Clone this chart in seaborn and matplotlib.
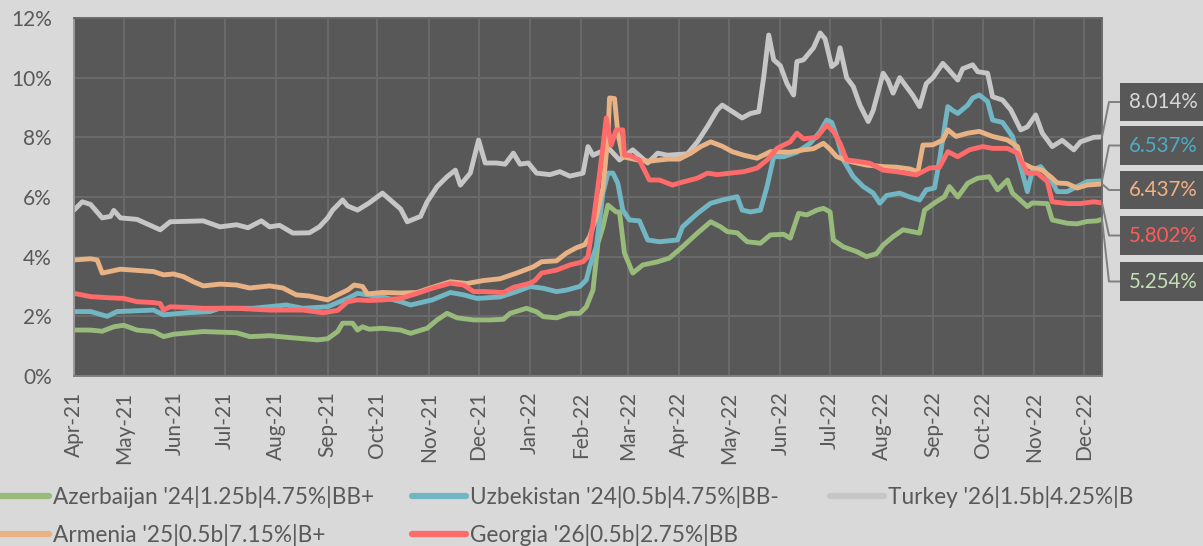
import math
import numpy as np
import pandas as pd
import matplotlib
matplotlib.use("Agg")
import matplotlib.pyplot as plt
import matplotlib.dates as mdates
from matplotlib.ticker import MultipleLocator, FuncFormatter
import seaborn as sns

# ---------------- data (days since 2021-04-01, yield %) ----------------
START = "2021-04-01"
END = "2022-12-12"

labels = [
    "Azerbaijan '24|1.25b|4.75%|BB+",
    "Uzbekistan '24|0.5b|4.75%|BB-",
    "Turkey '26|1.5b|4.25%|B",
    "Armenia '25|0.5b|7.15%|B+",
    "Georgia '26|0.5b|2.75%|BB",
]

az_day = [0, 10, 17, 24, 30, 38, 48, 54, 60, 78, 98, 106, 118, 134, 147, 153, 159, 162, 168, 171,
          174, 178, 186, 197, 203, 213, 219, 225, 231, 241, 251, 259, 263, 273, 279, 283, 291, 299,
          305, 309, 313, 316, 319, 322, 327, 329, 332, 337, 343, 352, 359, 367, 376, 384, 390, 394,
          400, 406, 414, 420, 428, 432, 437, 442, 448, 452, 456, 458, 464, 472, 478, 484, 488, 494,
          500, 510, 513, 520, 525, 528, 533, 539, 545, 552, 557, 563, 566, 575, 578, 587, 590, 599,
          605, 611, 617, 620]
az_val = [1.54, 1.54, 1.50, 1.65, 1.70, 1.54, 1.49, 1.32, 1.40, 1.49, 1.45, 1.32, 1.35, 1.27, 1.21,
          1.25, 1.49, 1.77, 1.77, 1.54, 1.65, 1.57, 1.60, 1.54, 1.43, 1.60, 1.88, 2.10, 1.95, 1.88,
          1.88, 1.90, 2.10, 2.27, 2.15, 1.99, 1.95, 2.10, 2.10, 2.32, 2.88, 4.45, 5.00, 5.73, 5.50,
          5.50, 4.12, 3.45, 3.72, 3.83, 3.95, 4.33, 4.79, 5.17, 5.00, 4.84, 4.80, 4.50, 4.45, 4.73,
          4.75, 4.62, 5.45, 5.40, 5.56, 5.62, 5.50, 4.56, 4.33, 4.17, 4.00, 4.10, 4.39, 4.67, 4.90,
          4.79, 5.56, 5.84, 6.01, 6.35, 6.00, 6.46, 6.63, 6.68, 6.24, 6.57, 6.13, 5.68, 5.80, 5.78,
          5.23, 5.12, 5.10, 5.18, 5.20, 5.254]

uz_day = [0, 10, 20, 26, 48, 54, 68, 82, 88, 108, 128, 138, 153, 165, 171, 177, 186, 197, 203, 216,
          227, 235, 243, 257, 267, 275, 283, 291, 297, 305, 309, 311, 315, 319, 322, 325, 328, 331,
          335, 341, 346, 353, 364, 367, 376, 384, 391, 400, 403, 408, 414, 418, 422, 428, 436, 444,
          450, 454, 457, 460, 464, 470, 476, 482, 486, 490, 498, 504, 510, 514, 519, 522, 527, 530,
          533, 539, 542, 546, 551, 554, 560, 566, 571, 575, 578, 583, 589, 593, 599, 605, 611, 620]
uz_val = [2.16, 2.16, 2.00, 2.16, 2.21, 2.05, 2.12, 2.16, 2.27, 2.27, 2.38, 2.27, 2.32, 2.60, 2.77,
          2.72, 2.65, 2.49, 2.38, 2.55, 2.80, 2.72, 2.60, 2.65, 2.83, 3.00, 2.94, 2.83, 2.88, 3.00,
          3.22, 3.66, 4.33, 6.13, 6.80, 6.80, 6.46, 5.56, 5.23, 5.20, 4.56, 4.50, 4.56, 5.00, 5.45,
          5.79, 5.90, 6.01, 5.56, 5.50, 5.56, 6.35, 7.35, 7.35, 7.50, 7.80, 8.19, 8.58, 8.50, 8.03,
          7.24, 6.68, 6.35, 6.13, 5.79, 6.05, 6.13, 6.00, 5.90, 6.24, 6.30, 7.24, 9.03, 8.90, 8.80,
          9.08, 9.32, 9.42, 9.20, 8.58, 8.50, 8.03, 7.02, 6.18, 6.90, 7.02, 6.60, 6.18, 6.18, 6.35,
          6.52, 6.537]

tr_day = [0, 5, 10, 17, 22, 24, 28, 38, 52, 58, 78, 88, 98, 105, 113, 118, 124, 132, 142, 148, 153,
          156, 162, 165, 171, 178, 186, 192, 197, 201, 209, 213, 219, 225, 230, 233, 239, 244, 248,
          255, 260, 265, 269, 274, 279, 287, 293, 299, 307, 310, 313, 317, 323, 329, 337, 346, 352,
          358, 370, 376, 382, 388, 391, 396, 403, 408, 413, 416, 419, 422, 426, 430, 434, 436, 440,
          446, 450, 453, 457, 460, 462, 464, 466, 470, 474, 479, 482, 488, 491, 494, 498, 502, 506,
          510, 514, 518, 524, 527, 533, 536, 542, 545, 551, 554, 560, 565, 571, 575, 580, 584, 590,
          596, 603, 607, 615, 620]
tr_val = [5.56, 5.84, 5.75, 5.30, 5.35, 5.55, 5.30, 5.25, 4.90, 5.17, 5.20, 5.00, 5.07, 4.97, 5.20,
          5.00, 5.05, 4.79, 4.80, 5.00, 5.30, 5.56, 5.90, 5.70, 5.56, 5.80, 6.13, 5.84, 5.60, 5.17,
          5.35, 5.84, 6.35, 6.68, 6.90, 6.40, 6.80, 7.91, 7.14, 7.14, 7.10, 7.47, 7.10, 7.14, 6.80,
          6.75, 6.85, 6.70, 6.80, 7.69, 7.40, 7.50, 7.60, 7.24, 7.58, 7.14, 7.47, 7.40, 7.45, 7.85,
          8.36, 8.92, 9.08, 8.90, 8.65, 8.80, 8.86, 10.03, 11.43, 10.60, 10.40, 9.80, 9.42, 10.54,
          10.60, 11.00, 11.50, 11.30, 10.37, 10.50, 11.00, 10.50, 10.00, 9.70, 9.08, 8.53, 8.90,
          10.15, 9.90, 9.48, 10.00, 9.70, 9.40, 9.03, 9.80, 10.00, 10.48, 10.30, 9.92, 10.30, 10.43,
          10.20, 10.15, 9.36, 9.25, 8.92, 8.25, 8.35, 8.75, 8.14, 7.69, 7.90, 7.58, 7.85, 8.00, 8.014]

ar_day = [0, 10, 14, 17, 28, 48, 54, 60, 66, 72, 78, 88, 98, 106, 118, 126, 134, 142, 153, 159, 165,
          169, 174, 177, 186, 197, 207, 216, 227, 237, 247, 257, 267, 277, 282, 291, 297, 303, 308,
          311, 315, 319, 322, 323, 326, 328, 331, 340, 347, 358, 365, 372, 378, 384, 391, 397, 404,
          412, 420, 432, 440, 446, 452, 456, 460, 468, 478, 488, 496, 504, 509, 512, 518, 524, 527,
          532, 539, 546, 554, 563, 569, 572, 578, 584, 590, 593, 599, 605, 611, 620]
ar_val = [3.89, 3.93, 3.89, 3.45, 3.58, 3.50, 3.39, 3.42, 3.33, 3.16, 3.02, 3.08, 3.05, 2.95, 3.02,
          2.95, 2.72, 2.68, 2.55, 2.72, 2.88, 3.05, 3.00, 2.75, 2.80, 2.78, 2.80, 2.97, 3.16, 3.10,
          3.20, 3.26, 3.45, 3.66, 3.83, 3.86, 4.12, 4.30, 4.40, 4.67, 5.34, 6.30, 8.00, 9.32, 9.30,
          8.14, 7.35, 7.24, 7.20, 7.27, 7.27, 7.47, 7.69, 7.85, 7.70, 7.52, 7.40, 7.30, 7.52, 7.50,
          7.58, 7.62, 7.80, 7.60, 7.35, 7.19, 7.07, 7.02, 7.00, 6.94, 6.85, 7.74, 7.75, 7.91, 8.25,
          8.03, 8.14, 8.20, 8.03, 7.91, 7.69, 7.13, 6.97, 6.90, 6.63, 6.47, 6.45, 6.30, 6.40, 6.437]

ge_day = [0, 10, 22, 30, 38, 48, 52, 54, 58, 68, 78, 98, 118, 138, 150, 159, 165, 171, 178, 186,
          197, 207, 216, 227, 235, 241, 247, 259, 265, 275, 278, 282, 291, 299, 307, 310, 313, 316,
          319, 321, 324, 327, 331, 332, 335, 341, 347, 353, 361, 367, 376, 382, 388, 396, 404, 412,
          418, 424, 432, 436, 440, 448, 454, 458, 462, 466, 472, 480, 488, 496, 508, 516, 522, 527,
          533, 540, 548, 554, 563, 569, 572, 575, 581, 587, 590, 599, 607, 615, 620]
ge_val = [2.77, 2.66, 2.62, 2.60, 2.49, 2.46, 2.43, 2.21, 2.32, 2.30, 2.27, 2.27, 2.21, 2.21, 2.12,
          2.20, 2.49, 2.55, 2.53, 2.55, 2.60, 2.77, 2.94, 3.11, 3.05, 2.83, 2.83, 2.80, 2.97, 3.11,
          3.20, 3.45, 3.55, 3.72, 3.83, 4.00, 5.12, 6.35, 7.69, 8.65, 7.74, 8.25, 8.25, 7.40, 7.40,
          7.24, 6.57, 6.57, 6.40, 6.50, 6.63, 6.80, 6.75, 6.80, 6.85, 6.97, 7.24, 7.63, 7.85, 8.14,
          7.95, 8.00, 8.41, 8.20, 7.80, 7.24, 7.20, 7.13, 6.90, 6.85, 6.74, 6.97, 7.00, 7.52, 7.35,
          7.58, 7.69, 7.63, 7.63, 7.47, 7.13, 6.80, 6.80, 6.52, 5.84, 5.78, 5.78, 5.84, 5.802]

line_colors = ["#98bb7c", "#72b6c3", "#c6c6c6", "#e9b285", "#ff6b6b"]
label_colors = ["#c5e0b4", "#4bacc6", "#d9d9d9", "#f4b183", "#ff5b5b"]

# ---------------- frame ----------------
days = [az_day, uz_day, tr_day, ar_day, ge_day]
vals = [az_val, uz_val, tr_val, ar_val, ge_val]
start = pd.Timestamp(START)
frames = []
for name, d, v in zip(labels, days, vals):
    frames.append(pd.DataFrame({
        "date": start + pd.to_timedelta(np.array(d), unit="D"),
        "value": v,
        "series": name,
    }))
df = pd.concat(frames, ignore_index=True)

# ---------------- style ----------------
FIG_BG = "#d9d9d9"
AX_BG = "#585858"
GRID = "#6a6a6a"
TXT = "#595959"
sns.set_theme(style="dark", rc={
    "figure.facecolor": FIG_BG,
    "axes.facecolor": AX_BG,
    "axes.edgecolor": GRID,
    "grid.color": GRID,
    "savefig.facecolor": FIG_BG,
})
plt.rcParams["font.family"] = ["Lato", "DejaVu Sans"]

W, H = 1203, 546
fig = plt.figure(figsize=(W / 100, H / 100), dpi=100)
L, R, T, B = 74, 1102, 18, 376
ax = fig.add_axes([L / W, 1 - B / H, (R - L) / W, (B - T) / H])

sns.lineplot(data=df, x="date", y="value", hue="series", hue_order=labels,
             palette=line_colors, linewidth=3.5, estimator=None, sort=True,
             legend=False, ax=ax)

ax.set_xlim(pd.Timestamp(START), pd.Timestamp(END))
ax.set_ylim(0, 12)
ax.yaxis.set_major_locator(MultipleLocator(2))
ax.yaxis.set_major_formatter(FuncFormatter(lambda v, p: f"{v:.0f}%"))
ax.xaxis.set_major_locator(mdates.MonthLocator())
ax.xaxis.set_major_formatter(mdates.DateFormatter("%b-%y"))
ax.tick_params(axis="x", rotation=90, length=0, pad=11, labelsize=15, labelcolor=TXT)
ax.tick_params(axis="y", length=0, pad=16, labelsize=15, labelcolor=TXT)
ax.grid(True, color=GRID, linewidth=1.4)
ax.set_axisbelow(True)
ax.set_xlabel("")
ax.set_ylabel("")
for s in ax.spines.values():
    s.set_color(GRID)
    s.set_linewidth(1.4)
ax.spines["bottom"].set_color("#808080")
ax.spines["left"].set_color("#9a9a9a")

# ---------------- end-value labels ----------------
box_order = [2, 1, 3, 4, 0]           # Turkey, Uzbekistan, Armenia, Georgia, Azerbaijan
box_y_img = [102, 145.5, 190, 235.5, 281.5]
for idx, by in zip(box_order, box_y_img):
    last_date = start + pd.Timedelta(days=days[idx][-1])
    last_val = vals[idx][-1]
    px, py = ax.transData.transform((mdates.date2num(last_date), last_val))
    ty = H - by
    ang = math.degrees(math.atan2(ty - py, 7.0))
    if abs(ang) < 1:
        ang = 1.0
    ax.annotate(f"{last_val:.3f}%", xy=(mdates.date2num(last_date), last_val), xycoords="data",
                xytext=(1129, ty), textcoords="figure pixels", ha="left", va="center",
                fontsize=14.8, color=label_colors[idx],
                bbox=dict(boxstyle="square,pad=0.45", fc=AX_BG, ec="none"),
                arrowprops=dict(arrowstyle="-", color="#7f7f7f", lw=1.4, shrinkA=0, shrinkB=0,
                                relpos=(0, 0.5),
                                connectionstyle=f"angle,angleA=0,angleB={ang},rad=0"),
                annotation_clip=False)

# ---------------- legend (3 columns, row-major like Excel) ----------------
lines = ax.get_lines()[:5]
cols = [[0, 3], [1, 4], [2]]
col_x = [-5, 412, 830]
for c, x0 in zip(cols, col_x):
    leg = fig.legend([lines[i] for i in c], [labels[i] for i in c], loc="upper left",
                     bbox_to_anchor=(x0 / W, 1 - 486 / H), frameon=False, fontsize=16.3,
                     handlelength=2.4, handletextpad=0.15, borderpad=0, borderaxespad=0,
                     labelspacing=0.7, labelcolor=TXT)
    for h in leg.legend_handles:
        h.set_linewidth(4.5)

fig.savefig("out.png", dpi=100, facecolor=FIG_BG)
